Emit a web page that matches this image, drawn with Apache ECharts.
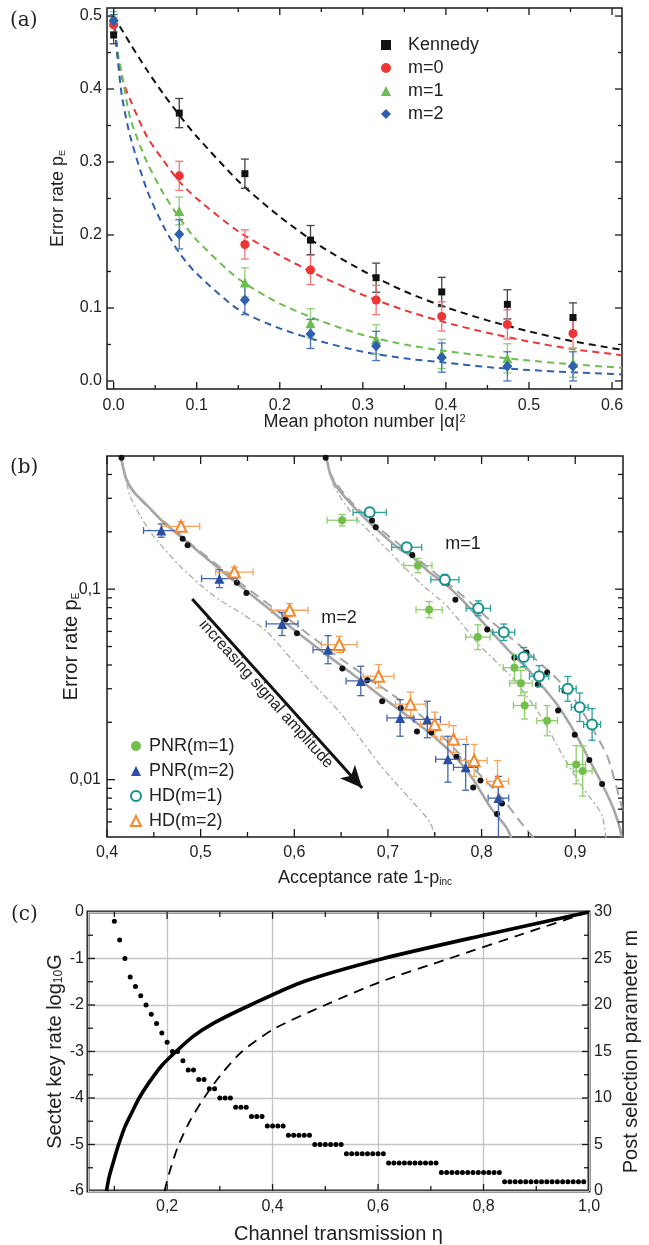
<!DOCTYPE html>
<html><head><meta charset="utf-8">
<script src="https://cdn.jsdelivr.net/npm/echarts@6/dist/echarts.min.js"></script>
<style>html,body{margin:0;padding:0;background:#fff}#c{width:649px;height:1245px}</style>
</head><body><div id="c"></div>
<script>
// ================= Panel (a) =================
const aX = [0, 0.079, 0.158, 0.237, 0.316, 0.395, 0.474, 0.553];
const aKennedy = [0.474, 0.367, 0.284, 0.193, 0.1415, 0.122, 0.105, 0.087];
const aM0 = [0.488, 0.281, 0.187, 0.152, 0.111, 0.0885, 0.0774, 0.065];
const aM1 = [0.498, 0.233, 0.135, 0.079, 0.057, 0.037, 0.031, 0.025];
const aM2 = [0.494, 0.201, 0.111, 0.0645, 0.048, 0.032, 0.020, 0.020];
const aKennedyErr = [0.012, 0.02, 0.02, 0.02, 0.02, 0.02, 0.02, 0.02];
const aM0Err = [0.01, 0.02, 0.02, 0.02, 0.02, 0.02, 0.02, 0.02];
const aM1Err = [0.008, 0.019, 0.02, 0.02, 0.02, 0.02, 0.02, 0.02];
const aM2Err = [0.008, 0.02, 0.02, 0.02, 0.02, 0.02, 0.02, 0.02];
const aFitX = [0, 0.005, 0.01, 0.02, 0.04, 0.06, 0.08, 0.1, 0.15, 0.2, 0.25, 0.3, 0.35, 0.4, 0.45, 0.5, 0.55, 0.6, 0.612];
const aKennedyFit = [0.5, 0.49, 0.481, 0.462, 0.426, 0.393, 0.363, 0.335, 0.274, 0.225, 0.184, 0.151, 0.123, 0.101, 0.083, 0.068, 0.055, 0.045, 0.043];
const aM0Fit = [0.5, 0.445, 0.415, 0.385, 0.335, 0.302, 0.272, 0.250, 0.205, 0.172, 0.143, 0.118, 0.097, 0.080, 0.066, 0.054, 0.044, 0.037, 0.035];
const aM1Fit = [0.5, 0.45, 0.42, 0.36, 0.30, 0.257, 0.222, 0.193, 0.140, 0.106, 0.082, 0.063, 0.050, 0.041, 0.034, 0.028, 0.023, 0.019, 0.018];
const aM2Fit = [0.5, 0.44, 0.39, 0.335, 0.262, 0.212, 0.174, 0.147, 0.098, 0.072, 0.054, 0.040, 0.031, 0.025, 0.019, 0.015, 0.012, 0.0095, 0.009];
const aXTickMajor = [0, 0.1, 0.2, 0.3, 0.4, 0.5, 0.6];
const aXTickMinor = [0.05, 0.15, 0.25, 0.35, 0.45, 0.55];
const aYTickMajor = [0, 0.1, 0.2, 0.3, 0.4, 0.5];
const aYTickMinor = [0.05, 0.15, 0.25, 0.35, 0.45];

// ================= Panel (b) =================
const bPnr1X = [0.651, 0.732, 0.744, 0.796, 0.835, 0.842, 0.846, 0.870, 0.901, 0.908];
const bPnr1Y = [0.230, 0.133, 0.078, 0.056, 0.0387, 0.0321, 0.0245, 0.0204, 0.0120, 0.0111];
const bPnr1XErr = [0.016, 0.015, 0.014, 0.013, 0.012, 0.012, 0.012, 0.011, 0.010, 0.010];
const bPnr1YLo = [0.2147, 0.1219, 0.0707, 0.0482, 0.0330, 0.0276, 0.0208, 0.0170, 0.0095, 0.0082];
const bPnr1YHi = [0.2464, 0.1452, 0.0861, 0.0650, 0.0454, 0.0374, 0.0288, 0.0245, 0.0151, 0.0150];

const bPnr2X = [0.458, 0.520, 0.587, 0.636, 0.671, 0.713, 0.742, 0.764, 0.783, 0.818];
const bPnr2Y = [0.203, 0.1135, 0.0657, 0.0481, 0.0330, 0.0211, 0.0207, 0.0128, 0.0116, 0.0080];
const bPnr2XErr = [0.019, 0.019, 0.017, 0.016, 0.0157, 0.014, 0.014, 0.013, 0.013, 0.011];
const bPnr2YLo = [0.1873, 0.1019, 0.0571, 0.0406, 0.0276, 0.0169, 0.0166, 0.0097, 0.0088, 0.0045];
const bPnr2YHi = [0.2200, 0.1265, 0.0756, 0.0570, 0.0394, 0.0263, 0.0258, 0.0169, 0.0153, 0.0104];

const bHd1X = [0.6805, 0.720, 0.7608, 0.7965, 0.8237, 0.845, 0.8614, 0.892, 0.9048, 0.918];
const bHd1Y = [0.253, 0.166, 0.112, 0.0793, 0.0594, 0.044, 0.0349, 0.030, 0.024, 0.0195];
const bHd1XErr = [0.0177, 0.016, 0.015, 0.013, 0.0117, 0.0107, 0.0103, 0.009, 0.009, 0.009];
const bHd1YLo = [0.2416, 0.1574, 0.1050, 0.0725, 0.0538, 0.0392, 0.0307, 0.0258, 0.0202, 0.0161];
const bHd1YHi = [0.2649, 0.1750, 0.1195, 0.0868, 0.0656, 0.0494, 0.0397, 0.0348, 0.0285, 0.0236];

const bHd2X = [0.479, 0.536, 0.595, 0.648, 0.690, 0.724, 0.750, 0.770, 0.792, 0.817];
const bHd2Y = [0.2138, 0.123, 0.0775, 0.0512, 0.0349, 0.0249, 0.0195, 0.0163, 0.0126, 0.0098];
const bHd2XErr = [0.02, 0.02, 0.0196, 0.019, 0.0165, 0.016, 0.0153, 0.014, 0.014, 0.0117];
const bHd2YLo = [0.2023, 0.1158, 0.0715, 0.0464, 0.0303, 0.0215, 0.0168, 0.0139, 0.0104, 0.0076];
const bHd2YHi = [0.2259, 0.1306, 0.0840, 0.0565, 0.0402, 0.0288, 0.0226, 0.0192, 0.0153, 0.0126];

const bTheory2X = [0.4155, 0.4808, 0.4861, 0.5387, 0.5489, 0.5908, 0.6028, 0.6513, 0.6779, 0.6938, 0.7137, 0.7310, 0.7464, 0.7732, 0.7910, 0.7988, 0.8165, 0.8218];
const bTheory2Y = [0.49, 0.1837, 0.170, 0.108, 0.0955, 0.0695, 0.0587, 0.0383, 0.0333, 0.0258, 0.0238, 0.0179, 0.0177, 0.0132, 0.0091, 0.0099, 0.0066, 0.0075];
const bTheory1X = [0.6335, 0.6830, 0.6870, 0.7260, 0.7625, 0.7720, 0.8060, 0.8350, 0.8480, 0.8600, 0.8700, 0.8817, 0.8885, 0.8995, 0.9150, 0.9287];
const bTheory1Y = [0.49, 0.229, 0.2115, 0.151, 0.1075, 0.088, 0.0614, 0.0437, 0.0465, 0.0316, 0.0365, 0.0231, 0.0293, 0.0172, 0.0127, 0.0095];

const bSolid2X = [0.4148, 0.417, 0.421, 0.428, 0.442, 0.46, 0.482, 0.51, 0.54, 0.57, 0.60, 0.63, 0.66, 0.69, 0.72, 0.75, 0.773, 0.79, 0.81, 0.8266, 0.832];
const bSolid2Y = [0.5, 0.44, 0.375, 0.326, 0.278, 0.225, 0.183, 0.14, 0.106, 0.081, 0.061, 0.047, 0.0365, 0.028, 0.0218, 0.0167, 0.013, 0.0102, 0.0071, 0.0056, 0.0049];
const bDash2X = [0.4148, 0.421, 0.442, 0.482, 0.54, 0.60, 0.65, 0.70, 0.7366, 0.7874, 0.82, 0.8404, 0.856];
const bDash2Y = [0.5, 0.37, 0.275, 0.185, 0.11, 0.066, 0.043, 0.029, 0.0214, 0.012, 0.0082, 0.0061, 0.0049];
const bDot2X = [0.4148, 0.418, 0.4245, 0.436, 0.4495, 0.465, 0.478, 0.50, 0.52, 0.545, 0.5704, 0.59, 0.606, 0.628, 0.6487, 0.670, 0.6913, 0.71, 0.728, 0.7447, 0.751];
const bDot2Y = [0.5, 0.42, 0.31, 0.24, 0.19, 0.155, 0.132, 0.105, 0.088, 0.074, 0.060, 0.047, 0.038, 0.029, 0.0225, 0.0165, 0.012, 0.0094, 0.0075, 0.006, 0.0049];
const bSolid1X = [0.6335, 0.636, 0.638, 0.645, 0.663, 0.688, 0.7127, 0.7258, 0.745, 0.7625, 0.78, 0.805, 0.83, 0.845, 0.86, 0.88, 0.90, 0.915, 0.929, 0.94, 0.9475, 0.9495];
const bSolid1Y = [0.5, 0.45, 0.406, 0.346, 0.272, 0.206, 0.162, 0.148, 0.122, 0.105, 0.087, 0.064, 0.047, 0.040, 0.033, 0.025, 0.0175, 0.0127, 0.0094, 0.0072, 0.0056, 0.0050];
const bDash1X = [0.6335, 0.64, 0.66, 0.69, 0.72, 0.75, 0.78, 0.81, 0.84, 0.88, 0.90, 0.92, 0.935, 0.951];
const bDash1Y = [0.5, 0.39, 0.29, 0.21, 0.16, 0.122, 0.092, 0.068, 0.051, 0.034, 0.026, 0.018, 0.013, 0.0068];
const bDot1X = [0.6335, 0.64, 0.65, 0.663, 0.69, 0.7127, 0.735, 0.7625, 0.798, 0.8336, 0.8624, 0.8906, 0.91, 0.928, 0.933];
const bDot1Y = [0.5, 0.37, 0.30, 0.245, 0.18, 0.138, 0.107, 0.082, 0.0507, 0.0339, 0.0218, 0.0124, 0.0088, 0.0066, 0.0049];
const bArrowStart = [0.491, 0.0887];
const bArrowEnd = [0.6725, 0.00905];
const bXTickMajor = [0.4, 0.5, 0.6, 0.7, 0.8, 0.9];
const bXTickMinor = [0.45, 0.55, 0.65, 0.75, 0.85];
const bYTickMajor = [0.01, 0.1];
const bYTickMinor = [0.006, 0.007, 0.008, 0.009, 0.02, 0.03, 0.04, 0.05, 0.06, 0.07, 0.08, 0.09, 0.2, 0.3, 0.4];

// ================= Panel (c) =================
const cSolidX = [0.085, 0.09, 0.1, 0.108, 0.12, 0.135, 0.147, 0.165, 0.19, 0.217, 0.25, 0.29, 0.358, 0.458, 0.61, 0.8, 1.0];
const cSolidY = [-6, -5.7, -5.3, -5, -4.62, -4.27, -4, -3.68, -3.3, -3, -2.67, -2.38, -2, -1.5, -1, -0.5, 0];
const cDashX = [0.195, 0.207, 0.222, 0.243, 0.27, 0.302, 0.342, 0.405, 0.50, 0.605, 0.735, 0.867, 1.0];
const cDashY = [-6, -5.5, -5, -4.5, -4, -3.5, -3, -2.5, -2, -1.5, -1, -0.5, 0];
const cDotX = [0.10, 0.11, 0.12, 0.13, 0.14, 0.15, 0.16, 0.17, 0.18, 0.19, 0.20, 0.21, 0.22, 0.23, 0.24, 0.25, 0.26, 0.27, 0.28, 0.29,
  0.30, 0.31, 0.32, 0.33, 0.34, 0.35, 0.36, 0.37, 0.38, 0.39, 0.40, 0.41, 0.42, 0.43, 0.44, 0.45, 0.46, 0.47, 0.48, 0.49,
  0.50, 0.51, 0.52, 0.53, 0.54, 0.55, 0.56, 0.57, 0.58, 0.59, 0.60, 0.61, 0.62, 0.63, 0.64, 0.65, 0.66, 0.67, 0.68, 0.69,
  0.70, 0.71, 0.72, 0.73, 0.74, 0.75, 0.76, 0.77, 0.78, 0.79, 0.80, 0.81, 0.82, 0.83, 0.84, 0.85, 0.86, 0.87, 0.88, 0.89,
  0.90, 0.91, 0.92, 0.93, 0.94, 0.95, 0.96, 0.97, 0.98, 0.99];
const cDotM = [29, 27, 25, 23, 22, 21, 20, 19, 18, 17, 16, 15, 15, 14, 13, 13, 12, 12, 11, 11,
  10, 10, 10, 9, 9, 9, 8, 8, 8, 7, 7, 7, 7, 6, 6, 6, 6, 6, 5, 5,
  5, 5, 5, 5, 4, 4, 4, 4, 4, 4, 4, 4, 3, 3, 3, 3, 3, 3, 3, 3,
  3, 3, 2, 2, 2, 2, 2, 2, 2, 2, 2, 2, 2, 2, 1, 1, 1, 1, 1, 1,
  1, 1, 1, 1, 1, 1, 1, 1, 1, 1];
const cXTickMajor = [0.2, 0.4, 0.6, 0.8];
const cXTickMinor = [0.1, 0.3, 0.5, 0.7, 0.9];
const cYTickMajor = [-5, -4, -3, -2, -1];
const cYTickMinor = [-5.5, -4.5, -3.5, -2.5, -1.5, -0.5];

// ================= helpers =================
const zip = (xs, ys) => xs.map((x, i) => [x, ys[i]]);
const FONT = 'Liberation Sans, Arial, sans-serif';
const INK = '#1a1a1a';
const SMOOTH = 0.25;

function errRender(color, cap, lw, hasX) {
  return function (params, api) {
    const x = api.value(0), y = api.value(1);
    const st = { stroke: color, lineWidth: lw };
    const ch = [];
    const a = api.coord([x, api.value(2)]), b = api.coord([x, api.value(3)]);
    ch.push({ type: 'line', shape: { x1: a[0], y1: a[1], x2: b[0], y2: b[1] }, style: st });
    ch.push({ type: 'line', shape: { x1: a[0] - cap, y1: a[1], x2: a[0] + cap, y2: a[1] }, style: st });
    ch.push({ type: 'line', shape: { x1: b[0] - cap, y1: b[1], x2: b[0] + cap, y2: b[1] }, style: st });
    if (hasX) {
      const c = api.coord([api.value(4), y]), d = api.coord([api.value(5), y]);
      ch.push({ type: 'line', shape: { x1: c[0], y1: c[1], x2: d[0], y2: d[1] }, style: st });
      ch.push({ type: 'line', shape: { x1: c[0], y1: c[1] - cap, x2: c[0], y2: c[1] + cap }, style: st });
      ch.push({ type: 'line', shape: { x1: d[0], y1: d[1] - cap, x2: d[0], y2: d[1] + cap }, style: st });
    }
    return { type: 'group', children: ch };
  };
}
function errSeriesA(vals, errs, color) {
  return {
    type: 'custom', xAxisIndex: 0, yAxisIndex: 0, clip: true, z: 3, silent: true,
    encode: { x: 0, y: 1 },
    renderItem: errRender(color, 4, 1.3, false),
    data: aX.map((x, i) => [x, vals[i], vals[i] - errs[i], vals[i] + errs[i]])
  };
}
function errSeriesB(xs, ys, xe, lo, hi, color) {
  return {
    type: 'custom', xAxisIndex: 1, yAxisIndex: 1, clip: true, z: 3, silent: true,
    encode: { x: 0, y: 1 },
    renderItem: errRender(color, 3.5, 1.3, true),
    data: xs.map((x, i) => [x, ys[i], lo[i], hi[i], x - xe[i], x + xe[i]])
  };
}
function tickSeries(kind, xi, yi, list) {
  return {
    type: 'custom', xAxisIndex: xi, yAxisIndex: yi, z: 10, silent: true,
    encode: { x: 0, y: 1 },
    renderItem: function (params, api) {
      const p = api.coord([api.value(0), api.value(1)]);
      const r = params.coordSys;
      const len = api.value(2);
      const st = { stroke: INK, lineWidth: 1.3 };
      if (kind === 'x') {
        return { type: 'group', children: [
          { type: 'line', shape: { x1: p[0], y1: r.y + r.height, x2: p[0], y2: r.y + r.height - len }, style: st },
          { type: 'line', shape: { x1: p[0], y1: r.y, x2: p[0], y2: r.y + len }, style: st }
        ] };
      }
      return { type: 'group', children: [
        { type: 'line', shape: { x1: r.x, y1: p[1], x2: r.x + len, y2: p[1] }, style: st },
        { type: 'line', shape: { x1: r.x + r.width, y1: p[1], x2: r.x + r.width - len, y2: p[1] }, style: st }
      ] };
    },
    data: list
  };
}
function fitLine(xs, ys, color) {
  return {
    type: 'line', xAxisIndex: 0, yAxisIndex: 0, showSymbol: false, silent: true, z: 2,
    smooth: SMOOTH,
    lineStyle: { color: color, width: 2, type: [7, 5] },
    data: zip(xs, ys)
  };
}
function grayLine(xs, ys, type, width, color) {
  return {
    type: 'line', xAxisIndex: 1, yAxisIndex: 1, showSymbol: false, silent: true, z: 1,
    smooth: SMOOTH,
    lineStyle: { color: color, width: width, type: type },
    data: zip(xs, ys)
  };
}
const comma = (v, d) => v.toFixed(d).replace('.', ',');

const C = {
  kennedy: '#111111', m0: '#ee3535', m1: '#6cbd4f', m2: '#2f5faf',
  kennedyE: '#444444', m0E: '#f07575', m1E: '#8fcf7a', m2E: '#4a74c0',
  pnr1: '#72c04a', pnr1E: '#8dd06a', pnr2: '#2b4fa3', pnr2E: '#4466b5',
  hd1: '#13938d', hd1E: '#2aa29c', hd2: '#f5892c', hd2E: '#f7a35c',
  gray: '#a6a6a6'
};

const chart = echarts.init(document.getElementById('c'), null, { renderer: 'canvas', width: 649, height: 1245 });

const axisCommon = {
  axisLine: { show: false }, axisTick: { show: false }, splitLine: { show: false },
  nameLocation: 'middle', nameMoveOverlap: false
};

const option = {
  animation: false,
  backgroundColor: '#ffffff',
  textStyle: { fontFamily: FONT, color: '#222' },
  grid: [
    { left: 107, top: 8, width: 515, height: 381, show: true, borderColor: INK, borderWidth: 1.5, backgroundColor: 'transparent' },
    { left: 107, top: 456, width: 516, height: 381, show: true, borderColor: INK, borderWidth: 1.5, backgroundColor: 'transparent' },
    { left: 88, top: 912, width: 506, height: 283, show: true, borderColor: INK, borderWidth: 3, backgroundColor: 'transparent' }
  ],
  legend: [
    {
      orient: 'vertical', left: 376, top: 31, itemWidth: 10, itemHeight: 10, itemGap: 5,
      textStyle: { fontSize: 18, color: '#222', fontFamily: FONT, padding: [0, 0, 0, 12] },
      data: ['Kennedy', 'm=0', 'm=1', 'm=2']
    },
    {
      orient: 'vertical', left: 125, top: 732, itemWidth: 10, itemHeight: 10, itemGap: 7,
      textStyle: { fontSize: 18, color: '#222', fontFamily: FONT, padding: [0, 0, 0, 3] },
      data: ['PNR(m=1)', 'PNR(m=2)', 'HD(m=1)', 'HD(m=2)']
    }
  ],
  xAxis: [
    Object.assign({}, axisCommon, {
      gridIndex: 0, type: 'value', min: -0.008, max: 0.612, minInterval: 0.1, maxInterval: 0.1,
      axisLabel: { fontSize: 16, color: '#222', margin: 9, showMinLabel: false, showMaxLabel: false, formatter: v => v.toFixed(1) },
      name: 'Mean photon number |α|{sup|2}', nameGap: 24,
      nameTextStyle: { fontSize: 18, color: '#222', rich: { sup: { fontSize: 11, verticalAlign: 'top', padding: [0, 0, 6, 0] } } }
    }),
    Object.assign({}, axisCommon, {
      gridIndex: 1, type: 'value', min: 0.4, max: 0.951, minInterval: 0.1, maxInterval: 0.1,
      axisLabel: { fontSize: 16, color: '#222', margin: 8, showMinLabel: true, showMaxLabel: false, formatter: v => comma(v, 1) },
      name: 'Acceptance rate 1-p{s|inc}', nameGap: 32,
      nameTextStyle: { fontSize: 18, color: '#222', rich: { s: { fontSize: 10, verticalAlign: 'bottom', padding: [6, 0, 0, 0] } } }
    }),
    Object.assign({}, axisCommon, {
      gridIndex: 2, type: 'value', min: 0.05, max: 1.0, minInterval: 0.2, maxInterval: 0.2,
      splitLine: { show: true, lineStyle: { color: '#c4c4c4', width: 1.3 } },
      axisLabel: { fontSize: 16, color: '#222', margin: 8, showMinLabel: false, showMaxLabel: true, formatter: v => comma(v, 1) },
      name: 'Channel transmission η', nameGap: 33,
      nameTextStyle: { fontSize: 20, color: '#222' }
    })
  ],
  yAxis: [
    Object.assign({}, axisCommon, {
      gridIndex: 0, type: 'value', min: -0.011, max: 0.511, minInterval: 0.1, maxInterval: 0.1,
      axisLabel: { fontSize: 16, color: '#222', margin: 5, showMinLabel: false, showMaxLabel: false, formatter: v => v.toFixed(1) },
      name: 'Error rate p{s|E}', nameGap: 40,
      nameTextStyle: { fontSize: 18, color: '#222', rich: { s: { fontSize: 9, verticalAlign: 'bottom', padding: [6, 0, 0, 0] } } }
    }),
    Object.assign({}, axisCommon, {
      gridIndex: 1, type: 'log', logBase: 10, min: 0.005, max: 0.5,
      axisLabel: { fontSize: 16, color: '#222', margin: 6, showMinLabel: false, showMaxLabel: false,
        formatter: v => String(Number(v.toPrecision(2))).replace('.', ',') },
      name: 'Error rate p{s|E}', nameGap: 26,
      nameTextStyle: { fontSize: 20, color: '#222', rich: { s: { fontSize: 10, verticalAlign: 'bottom', padding: [7, 0, 0, 0] } } }
    }),
    Object.assign({}, axisCommon, {
      gridIndex: 2, type: 'value', min: -6, max: 0, interval: 1, position: 'left',
      splitLine: { show: true, lineStyle: { color: '#c4c4c4', width: 1.3 } },
      axisLabel: { fontSize: 16, color: '#222', margin: 4 },
      name: 'Sectet key rate log{s|10}G', nameGap: 23,
      nameTextStyle: { fontSize: 20, color: '#222', rich: { s: { fontSize: 12, verticalAlign: 'bottom', padding: [8, 0, 0, 0] } } }
    }),
    Object.assign({}, axisCommon, {
      gridIndex: 2, type: 'value', min: 0, max: 30, interval: 5, position: 'right',
      axisLabel: { fontSize: 16, color: '#222', margin: 5 },
      name: 'Post selection parameter m', nameGap: 32,
      nameTextStyle: { fontSize: 20, color: '#222' }
    })
  ],
  graphic: [
    { type: 'text', left: 10, top: 11, style: { text: '(a)', font: '20px "DejaVu Serif", serif', fill: '#222' } },
    { type: 'text', left: 10, top: 458, style: { text: '(b)', font: '20px "DejaVu Serif", serif', fill: '#222' } },
    { type: 'text', left: 11, top: 905, style: { text: '(c)', font: '20px "DejaVu Serif", serif', fill: '#222' } },
    { type: 'text', x: 463, y: 544, style: { text: 'm=1', font: '18px ' + FONT, fill: '#222', textAlign: 'center', textVerticalAlign: 'middle' } },
    { type: 'text', x: 339, y: 618, style: { text: 'm=2', font: '18px ' + FONT, fill: '#222', textAlign: 'center', textVerticalAlign: 'middle' } },
    { type: 'text', x: 266, y: 694, rotation: -0.842, style: { text: 'increasing signal amplitude', font: '16px ' + FONT, fill: '#222', textAlign: 'center', textVerticalAlign: 'middle' } }
  ],
  series: [
    // ---- (a)
    fitLine(aFitX, aKennedyFit, C.kennedy),
    fitLine(aFitX, aM0Fit, C.m0),
    fitLine(aFitX, aM1Fit, C.m1),
    fitLine(aFitX, aM2Fit, C.m2),
    errSeriesA(aKennedy, aKennedyErr, C.kennedyE),
    errSeriesA(aM0, aM0Err, C.m0E),
    errSeriesA(aM1, aM1Err, C.m1E),
    errSeriesA(aM2, aM2Err, C.m2E),
    { name: 'Kennedy', type: 'scatter', xAxisIndex: 0, yAxisIndex: 0, symbol: 'rect', symbolSize: 7, z: 4, itemStyle: { color: C.kennedy, opacity: 1 }, data: zip(aX, aKennedy) },
    { name: 'm=0', type: 'scatter', xAxisIndex: 0, yAxisIndex: 0, symbol: 'circle', symbolSize: 9, z: 4, itemStyle: { color: C.m0, opacity: 1 }, data: zip(aX, aM0) },
    { name: 'm=1', type: 'scatter', xAxisIndex: 0, yAxisIndex: 0, symbol: 'triangle', symbolSize: 10, z: 4, itemStyle: { color: C.m1, opacity: 1 }, data: zip(aX, aM1) },
    { name: 'm=2', type: 'scatter', xAxisIndex: 0, yAxisIndex: 0, symbol: 'diamond', symbolSize: [10, 11], z: 4, itemStyle: { color: C.m2, opacity: 1 }, data: zip(aX, aM2) },
    tickSeries('x', 0, 0, aXTickMajor.map(v => [v, 0.25, 7]).concat(aXTickMinor.map(v => [v, 0.25, 4]))),
    tickSeries('y', 0, 0, aYTickMajor.map(v => [0.3, v, 7]).concat(aYTickMinor.map(v => [0.3, v, 4]))),
    // ---- (b)
    grayLine(bSolid2X, bSolid2Y, 'solid', 2.6, C.gray),
    grayLine(bDash2X, bDash2Y, [10, 6], 2, C.gray),
    grayLine(bDot2X, bDot2Y, [6, 3, 2, 3], 1.4, '#b0b0b0'),
    grayLine(bSolid1X, bSolid1Y, 'solid', 2.6, C.gray),
    grayLine(bDash1X, bDash1Y, [10, 6], 2, C.gray),
    grayLine(bDot1X, bDot1Y, [6, 3, 2, 3], 1.4, '#b0b0b0'),
    {
      type: 'scatter', xAxisIndex: 1, yAxisIndex: 1, symbol: 'circle', symbolSize: 6, z: 2, silent: true,
      itemStyle: { color: '#111', opacity: 1 }, data: zip(bTheory2X, bTheory2Y),
      markLine: {
        silent: true, symbol: ['none', 'arrow'], symbolSize: [15, 22], animation: false,
        label: { show: false },
        lineStyle: { color: '#111', width: 3, type: 'solid' },
        data: [[{ coord: bArrowStart }, { coord: bArrowEnd }]]
      }
    },
    { type: 'scatter', xAxisIndex: 1, yAxisIndex: 1, symbol: 'circle', symbolSize: 6, z: 2, silent: true, itemStyle: { color: '#111', opacity: 1 }, data: zip(bTheory1X, bTheory1Y) },
    errSeriesB(bPnr1X, bPnr1Y, bPnr1XErr, bPnr1YLo, bPnr1YHi, C.pnr1E),
    errSeriesB(bPnr2X, bPnr2Y, bPnr2XErr, bPnr2YLo, bPnr2YHi, C.pnr2E),
    errSeriesB(bHd1X, bHd1Y, bHd1XErr, bHd1YLo, bHd1YHi, C.hd1E),
    errSeriesB(bHd2X, bHd2Y, bHd2XErr, bHd2YLo, bHd2YHi, C.hd2E),
    { name: 'PNR(m=1)', type: 'scatter', xAxisIndex: 1, yAxisIndex: 1, symbol: 'circle', symbolSize: 8, z: 4, itemStyle: { color: C.pnr1, opacity: 1 }, data: zip(bPnr1X, bPnr1Y) },
    { name: 'PNR(m=2)', type: 'scatter', xAxisIndex: 1, yAxisIndex: 1, symbol: 'triangle', symbolSize: 10, z: 4, itemStyle: { color: C.pnr2, opacity: 1 }, data: zip(bPnr2X, bPnr2Y) },
    { name: 'HD(m=1)', type: 'scatter', xAxisIndex: 1, yAxisIndex: 1, symbol: 'emptyCircle', symbolSize: 10, z: 4, itemStyle: { color: C.hd1, borderColor: C.hd1, borderWidth: 2.6, opacity: 1 }, data: zip(bHd1X, bHd1Y) },
    { name: 'HD(m=2)', type: 'scatter', xAxisIndex: 1, yAxisIndex: 1, symbol: 'emptyTriangle', symbolSize: 11, z: 4, itemStyle: { color: C.hd2, borderColor: C.hd2, borderWidth: 2.4, opacity: 1 }, data: zip(bHd2X, bHd2Y) },
    tickSeries('x', 1, 1, bXTickMajor.map(v => [v, 0.05, 8]).concat(bXTickMinor.map(v => [v, 0.05, 5]))),
    tickSeries('y', 1, 1, bYTickMajor.map(v => [0.6, v, 8]).concat(bYTickMinor.map(v => [0.6, v, 5]))),
    // ---- (c)
    { type: 'line', xAxisIndex: 2, yAxisIndex: 2, showSymbol: false, silent: true, smooth: SMOOTH, z: 3,
      lineStyle: { color: '#000', width: 3.6 }, data: zip(cSolidX, cSolidY) },
    { type: 'line', xAxisIndex: 2, yAxisIndex: 2, showSymbol: false, silent: true, smooth: SMOOTH, z: 3,
      lineStyle: { color: '#000', width: 1.8, type: [10, 7] }, data: zip(cDashX, cDashY) },
    { type: 'scatter', xAxisIndex: 2, yAxisIndex: 3, symbol: 'circle', symbolSize: 5, silent: true, z: 4,
      itemStyle: { color: '#000', opacity: 1 }, data: zip(cDotX, cDotM) },
    tickSeries('x', 2, 2, cXTickMajor.map(v => [v, -3, 7]).concat(cXTickMinor.map(v => [v, -3, 5]))),
    tickSeries('y', 2, 2, cYTickMajor.map(v => [0.5, v, 7]).concat(cYTickMinor.map(v => [0.5, v, 5])))
  ]
};
chart.setOption(option);
</script>
</body></html>
